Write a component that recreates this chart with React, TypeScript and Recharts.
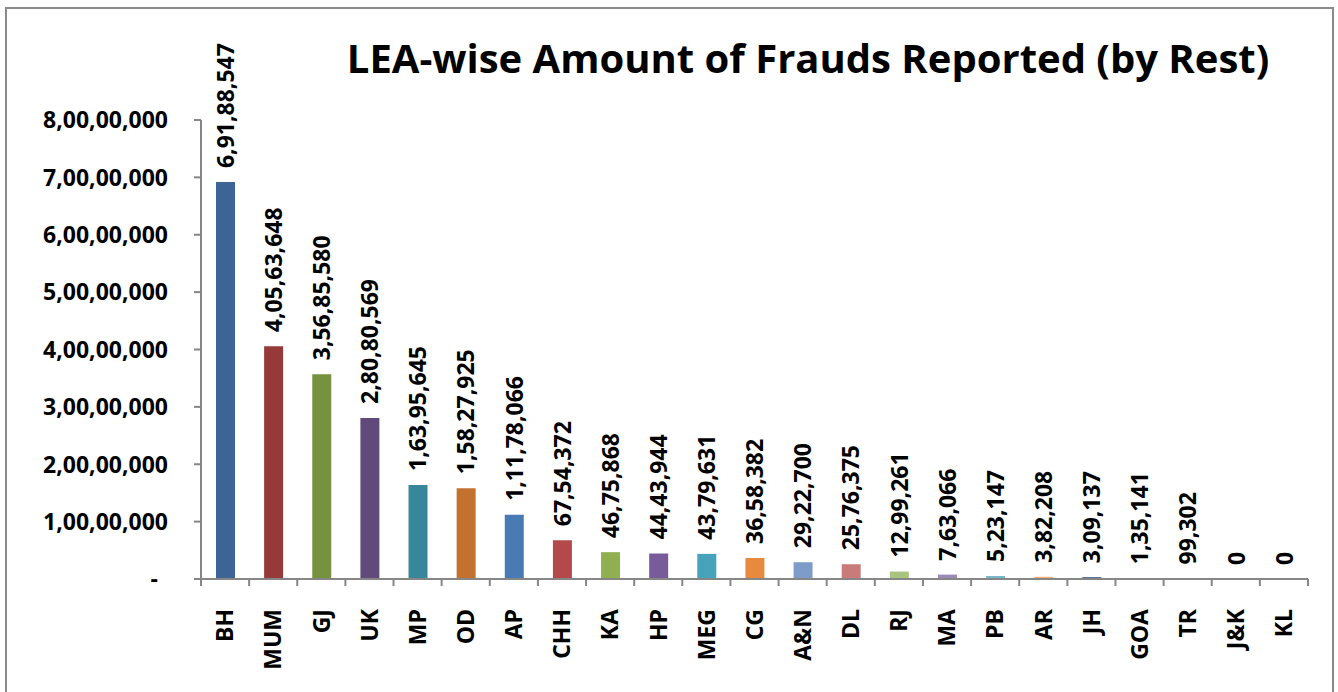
import React from 'react'
import { BarChart, Bar, XAxis, YAxis, Cell, LabelList } from 'recharts'

const leas = ['BH', 'MUM', 'GJ', 'UK', 'MP', 'OD', 'AP', 'CHH', 'KA', 'HP', 'MEG', 'CG', 'A&N', 'DL', 'RJ', 'MA', 'PB', 'AR', 'JH', 'GOA', 'TR', 'J&K', 'KL']
const amounts = [69188547, 40563648, 35685580, 28080569, 16395645, 15827925, 11178066, 6754372, 4675868, 4443944, 4379631, 3658382, 2922700, 2576375, 1299261, 763066, 523147, 382208, 309137, 135141, 99302, 0, 0]
const yTicks = [0, 10000000, 20000000, 30000000, 40000000, 50000000, 60000000, 70000000, 80000000]

const barColors = [
  '#3C6497', '#953A38', '#77923F', '#604A7B', '#37879A', '#C3712F', '#4A7AB4', '#B3494A',
  '#8FAF50', '#775B9A', '#47A2BC', '#E68B3E', '#7D9CC9', '#C97B7A', '#A9C47E', '#9B89B7',
  '#79B8CA', '#F4AE78', '#2C4D75', '#772C2A', '#5F7530', '#4D3B62', '#276A7C',
]

const chartData = leas.map((lea, i) => ({ lea, amount: amounts[i] }))

const FONT = '"Open Sans", "Liberation Sans", sans-serif'
const AXIS = '#868686'
const W = 1338
const H = 692
const M = { top: 120, right: 30, left: 0, bottom: 0 }
const Y_W = 201
const X_H = 113
const STEP = (W - M.right - Y_W) / leas.length

// indian digit grouping: 6,91,88,547
function inr(n: number) {
  const s = String(Math.round(n))
  if (s.length <= 3) return s
  const last = s.slice(-3)
  let rest = s.slice(0, -3)
  const parts: string[] = []
  while (rest.length > 2) {
    parts.unshift(rest.slice(-2))
    rest = rest.slice(0, -2)
  }
  if (rest) parts.unshift(rest)
  return parts.join(',') + ',' + last
}

function YTick(props: any) {
  const { x, y, payload } = props
  const v = payload.value
  return (
    <text x={v === 0 ? x - 10 : x} y={y} dy="0.36em" textAnchor="end"
      fontFamily={FONT} fontWeight={700} fontSize={23} fill="#000">
      {v === 0 ? '-' : inr(v)}
    </text>
  )
}

function XTick(props: any) {
  const { x, y, payload, index } = props
  const base = y - 30
  return (
    <g>
      <line x1={x - STEP / 2} x2={x - STEP / 2} y1={base} y2={base + 7} stroke={AXIS} strokeWidth={2} />
      {index === leas.length - 1 && (
        <line x1={x + STEP / 2} x2={x + STEP / 2} y1={base} y2={base + 7} stroke={AXIS} strokeWidth={2} />
      )}
      <text x={x} y={y} dy="0.36em" textAnchor="end" transform={`rotate(-90, ${x}, ${y})`}
        fontFamily={FONT} fontWeight={700} fontSize={23} fill="#000">
        {payload.value}
      </text>
    </g>
  )
}

function ValueLabel(props: any) {
  const { x, y, width, height, value } = props
  const cx = Number(x) + Number(width) / 2
  const ty = Number(y) + Math.min(0, Number(height) || 0) - 14
  return (
    <text x={cx} y={ty} dy="0.36em" textAnchor="start" transform={`rotate(-90, ${cx}, ${ty})`}
      fontFamily={FONT} fontWeight={700} fontSize={23} fill="#000">
      {inr(Number(value) || 0)}
    </text>
  )
}

export default function App() {
  return (
    <div style={{ position: 'absolute', left: 0, top: 0, width: W, height: H, background: '#fff', overflow: 'hidden' }}>
      <div style={{ position: 'absolute', left: 5, top: 7, width: 1329, height: 700, border: '2px solid #8a8a8a', boxSizing: 'border-box' }} />
      <div style={{
        position: 'absolute', left: 200, width: 1216, top: 30, textAlign: 'center',
        fontFamily: FONT, fontWeight: 700, fontSize: 40, color: '#000', lineHeight: '56px',
      }}>
        LEA-wise Amount of Frauds Reported (by Rest)
      </div>
      <div style={{ position: 'absolute', left: 0, top: 0 }}>
        <BarChart width={W} height={H} data={chartData} margin={M}>
          <XAxis dataKey="lea" interval={0} height={X_H} tickLine={false} tickSize={7} tickMargin={23}
            axisLine={{ stroke: AXIS, strokeWidth: 2 }} tick={<XTick />} />
          <YAxis width={Y_W} domain={[0, 80000000]} ticks={yTicks} tickSize={7} tickMargin={26}
            axisLine={{ stroke: AXIS, strokeWidth: 2 }} tickLine={{ stroke: AXIS, strokeWidth: 2 }} tick={<YTick />} />
          <Bar dataKey="amount" barSize={19} isAnimationActive={false}
            minPointSize={(v: number) => (v === 0 ? 0.01 : 0)}>
            {chartData.map((d, i) => (
              <Cell key={d.lea} fill={barColors[i]} />
            ))}
            <LabelList dataKey="amount" content={<ValueLabel />} />
          </Bar>
        </BarChart>
      </div>
    </div>
  )
}
